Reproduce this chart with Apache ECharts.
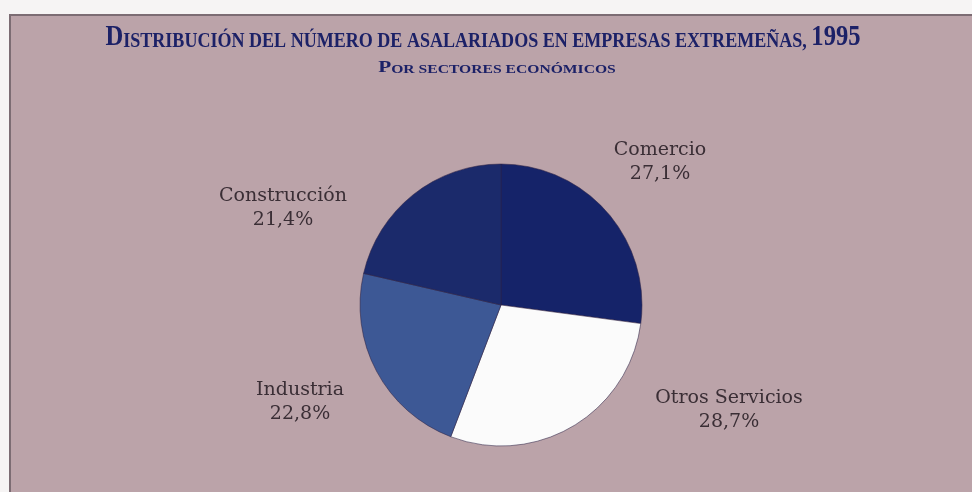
<!DOCTYPE html>
<html>
<head>
<meta charset="utf-8">
<script src="https://cdn.jsdelivr.net/npm/echarts@6/dist/echarts.min.js"></script>
<style>
  html, body { margin: 0; padding: 0; background: #f6f4f4; }
  #chart { width: 972px; height: 492px; }
</style>
</head>
<body>
<div id="chart"></div>
<script>
// Sectors, in clockwise order from twelve o'clock
const sectors = ['Comercio', 'Otros Servicios', 'Industria', 'Construcción'];
// Share of salaried workers, %
const shares = [27.1, 28.7, 22.8, 21.4];

const sliceColors = ['#152369', '#fbfbfb', '#3d5895', '#1b2a6b'];
// Label block centres (x, y) per sector
const labelSpots = [[660, 162], [729, 410], [300, 402], [283, 208]];

const navy = '#1c2167';
const serif = '"Liberation Serif", "DejaVu Serif", serif';

// Small-caps title: a large initial, the rest as reduced capitals
function smallCaps(text, bigKey, smallKey) {
  let out = '';
  let first = true;
  for (const word of text.split(' ')) {
    if (out) out += '{' + smallKey + '| }';
    let w = word;
    if (first || /^[0-9]/.test(w)) {
      const n = /^[0-9]/.test(w) ? w.length : 1;
      out += '{' + bigKey + '|' + w.slice(0, n) + '}';
      w = w.slice(n);
      first = false;
    }
    if (w) out += '{' + smallKey + '|' + w.toUpperCase() + '}';
  }
  return out;
}

const chart = echarts.init(document.getElementById('chart'), null, { renderer: 'canvas' });

chart.setOption({
  backgroundColor: '#f6f4f4',
  animation: false,
  graphic: [
    {
      type: 'rect',
      shape: { x: 10, y: 15, width: 972, height: 492 },
      style: { fill: '#bba3a9', stroke: '#7c6c73', lineWidth: 2 },
      z: -10
    },
    {
      type: 'text',
      x: 483, y: 52,
      scaleX: 0.82,
      style: {
        text: smallCaps('Distribución del número de asalariados en empresas extremeñas, 1995', 'b', 's'),
        align: 'center',
        verticalAlign: 'bottom',
        fill: navy,
        rich: {
          b: { fontFamily: serif, fontWeight: 'bold', fontSize: 30, fill: navy, verticalAlign: 'bottom' },
          s: { fontFamily: serif, fontWeight: 'bold', fontSize: 22, fill: navy, verticalAlign: 'bottom' }
        }
      }
    },
    {
      type: 'text',
      x: 497, y: 76,
      scaleX: 1.25,
      style: {
        text: smallCaps('Por sectores económicos', 'b', 's'),
        align: 'center',
        verticalAlign: 'bottom',
        fill: navy,
        rich: {
          b: { fontFamily: serif, fontWeight: 'bold', fontSize: 17, fill: navy, verticalAlign: 'bottom' },
          s: { fontFamily: serif, fontWeight: 'bold', fontSize: 12.5, fill: navy, verticalAlign: 'bottom' }
        }
      }
    }
  ],
  series: [
    {
      type: 'pie',
      center: [501, 305],
      radius: 141,
      startAngle: 90,
      clockwise: true,
      silent: true,
      itemStyle: { borderColor: 'rgba(45,35,70,0.55)', borderWidth: 1 },
      label: {
        show: true,
        position: 'outside',
        fontFamily: '"DejaVu Serif", serif',
        fontSize: 19,
        lineHeight: 24,
        color: '#3a2e35',
        align: 'center',
        formatter: p => p.name + '\n' + String(p.value).replace('.', ',') + '%'
      },
      labelLine: { show: false },
      labelLayout: p => ({
        x: labelSpots[p.dataIndex][0],
        y: labelSpots[p.dataIndex][1],
        align: 'center',
        verticalAlign: 'middle'
      }),
      data: sectors.map((name, i) => ({
        name,
        value: shares[i],
        itemStyle: { color: sliceColors[i] }
      }))
    }
  ]
});
</script>
</body>
</html>
